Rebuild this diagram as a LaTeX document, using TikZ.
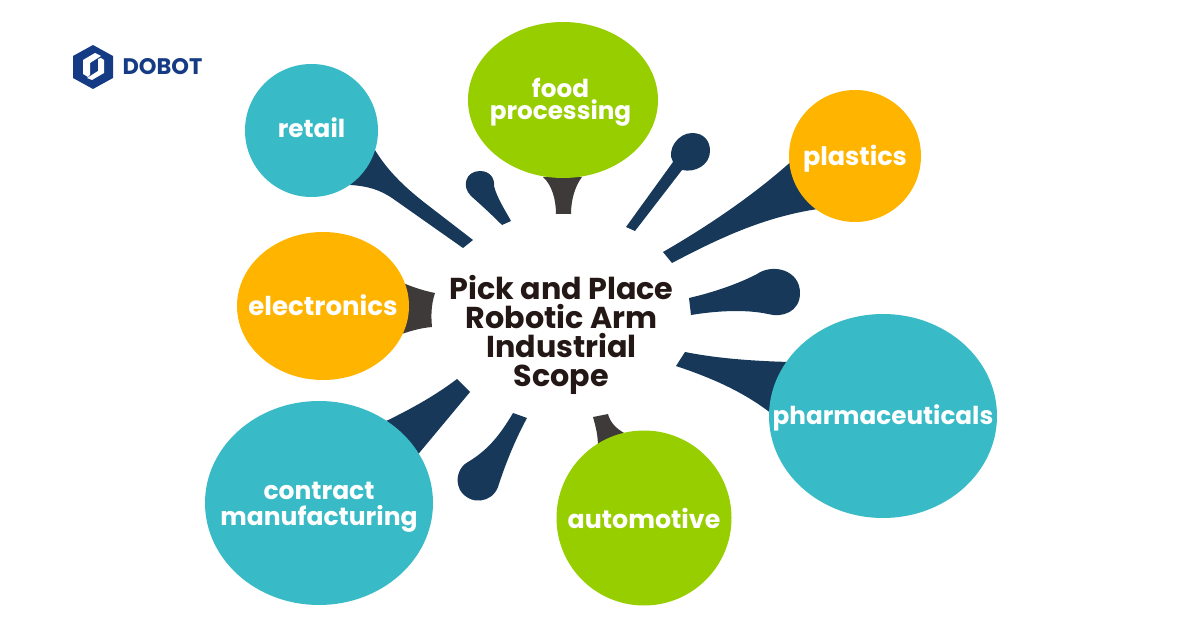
\documentclass[tikz,border=0pt]{standalone}
\usepackage{fontspec}
\setmainfont{Poppins}
\usepackage{xcolor}
\usetikzlibrary{shapes.geometric}
\definecolor{tealc}{HTML}{38BBC6}
\definecolor{limec}{HTML}{97CE00}
\definecolor{amberc}{HTML}{FFB500}
\definecolor{navyc}{HTML}{173858}
\definecolor{grayc}{HTML}{3E3A39}
\definecolor{inkc}{HTML}{231815}
\definecolor{logoc}{HTML}{153B85}
\tikzset{
	bubble/.style={ellipse, inner sep=0pt},
	bubbletext/.style={text=white, align=center, inner sep=0pt, font=\fontsize{24.7}{22}\selectfont\bfseries},
	spokenavy/.style={fill=navyc},
	spokegray/.style={fill=grayc}
}

\begin{document}
\begin{tikzpicture}[x=1pt, y=-1pt]
	\useasboundingbox (0, 0) rectangle (1201, 628);
	\fill[spokenavy] (350, 185) .. controls (368, 186) and (380, 190) .. (392, 198) -- (463, 248) -- (473, 240) -- (425, 203) .. controls (402, 185) and (385, 168) .. (372, 145) -- cycle;
	\fill[spokenavy] (502, 225) .. controls (490, 213) and (480, 204) .. (471, 196) .. controls (461, 186) and (466, 171) .. (480, 171) .. controls (491, 171) and (495, 180) .. (494, 186) .. controls (497, 198) and (505, 210) .. (511, 221) -- cycle;
	\fill[spokegray] (543, 177) .. controls (552, 185) and (556, 200) .. (556, 214) -- (571, 214) .. controls (571, 200) and (575, 186) .. (582, 177) -- cycle;
	\fill[spokenavy] (626, 227) -- (673, 162) .. controls (666, 150) and (678, 133) .. (692, 133) .. controls (704, 133) and (710, 141) .. (710, 151) .. controls (710, 165) and (695, 173) .. (682, 170) -- (635, 231) -- cycle;
	\fill[spokenavy] (663, 252) .. controls (715, 222) and (760, 190) .. (795, 158) -- (825, 208) .. controls (770, 215) and (725, 235) .. (672, 263) -- cycle;
	\fill[spokenavy] (689, 298) .. controls (715, 292) and (740, 283) .. (757, 274) .. controls (773, 263) and (800, 270) .. (800, 293) .. controls (800, 312) and (782, 318) .. (768, 314) .. controls (745, 309) and (715, 311) .. (691, 315) -- cycle;
	\fill[spokenavy] (685, 352) .. controls (715, 358) and (750, 361) .. (790, 362) -- (772, 414) .. controls (745, 393) and (715, 379) .. (676, 366) -- cycle;
	\fill[spokegray] (593, 417) -- (608, 414) .. controls (610, 422) and (616, 429) .. (626, 434) -- (598, 448) .. controls (598, 435) and (596, 428) .. (593, 417) -- cycle;
	\fill[spokenavy] (513, 413) -- (527, 418) .. controls (515, 440) and (505, 465) .. (498, 487) .. controls (492, 503) and (470, 506) .. (460, 490) .. controls (454, 478) and (460, 466) .. (468, 462) .. controls (488, 450) and (500, 435) .. (513, 413) -- cycle;
	\fill[spokenavy] (457, 379) -- (470, 392) -- (415, 458) -- (380, 424) .. controls (405, 412) and (432, 398) .. (457, 379) -- cycle;
	\fill[spokegray] (403, 283) .. controls (415, 288) and (425, 291) .. (435, 293) .. controls (431, 305) and (431, 316) .. (432, 327) .. controls (420, 328) and (410, 331) .. (396, 336) -- cycle;
	\node[bubble, fill=tealc, minimum width=133pt, minimum height=133pt] (retail) at (311.5, 130.5) {};
	\node[bubble, fill=limec, minimum width=190pt, minimum height=156pt] (food) at (563, 100) {};
	\node[bubble, fill=amberc, minimum width=132pt, minimum height=132pt] (plastics) at (855, 156) {};
	\node[bubble, fill=amberc, minimum width=172pt, minimum height=148pt] (electronics) at (323, 306) {};
	\node[bubble, fill=tealc, minimum width=228pt, minimum height=204pt] (pharma) at (883, 416) {};
	\node[bubble, fill=tealc, minimum width=228pt, minimum height=204pt] (contract) at (319, 503) {};
	\node[bubble, fill=limec, minimum width=175pt, minimum height=175pt] (automotive) at (644, 518) {};
	\node[bubbletext] (retailtext) at (311.5, 128) {retail};
	\node[bubbletext] (foodtext) at (560.5, 102) {food\\processing};
	\node[bubbletext, font=\fontsize{25.5}{22}\selectfont\bfseries] (plasticstext) at (855, 159) {plastics};
	\node[bubbletext, font=\fontsize{26}{22}\selectfont\bfseries] (electronicstext) at (323, 305) {electronics};
	\node[bubbletext] (pharmatext) at (883, 418) {pharmaceuticals};
	\node[bubbletext, font=\fontsize{25}{26}\selectfont\bfseries] (contracttext) at (319, 507) {contract\\manufacturing};
	\node[bubbletext, font=\fontsize{25.3}{22}\selectfont\bfseries] (automotivetext) at (644, 518) {automotive};
	\node[align=center, text=inkc, font=\fontsize{30.2}{28.8}\selectfont\bfseries, inner sep=0pt] (scope) at (561.5, 335) {Pick and Place\\Robotic Arm\\Industrial\\Scope};
	\fill[logoc] (93, 45) -- (113, 56) -- (113, 78) -- (93, 89) -- (73, 78) -- (73, 56) -- cycle;
	\fill[white] (83, 60) -- (95, 53) -- (101, 56) -- (90, 63) -- (90, 75) -- (88, 77) -- (83, 74) -- cycle;
	\fill[white] (104, 60) -- (104, 73) -- (92, 80) -- (87, 78) -- (98, 71) -- (98, 59) -- (101, 58) -- cycle;
	\node[text=logoc, font=\fontsize{22.5}{22}\selectfont\bfseries, inner sep=0pt] (logo) at (162.5, 67) {DOBOT};
\end{tikzpicture}
\end{document}
